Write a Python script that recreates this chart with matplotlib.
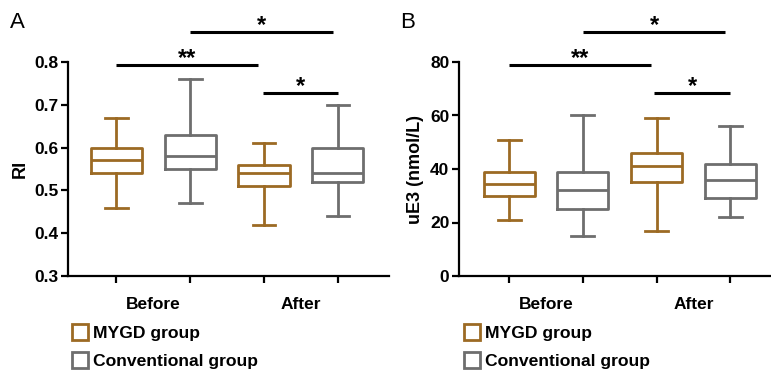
import matplotlib
matplotlib.use("Agg")
import matplotlib.pyplot as plt
from matplotlib.lines import Line2D

plt.rcParams['font.family'] = ['Liberation Sans', 'DejaVu Sans']

# ---- data ----
groups = ["MYGD group", "Conventional group"]
time_labels = ["Before", "After"]
colors = ["#9C6A24", "#6E6E6E"]

# order: MYGD Before, Conv Before, MYGD After, Conv After
ri_whislo = [0.46, 0.47, 0.42, 0.44]
ri_q1 = [0.54, 0.55, 0.51, 0.52]
ri_med = [0.57, 0.58, 0.54, 0.54]
ri_q3 = [0.60, 0.63, 0.56, 0.60]
ri_whishi = [0.67, 0.76, 0.61, 0.70]

ue3_whislo = [21, 15, 17, 22]
ue3_q1 = [30, 25, 35, 29]
ue3_med = [34.5, 32, 41, 36]
ue3_q3 = [39, 39, 46, 42]
ue3_whishi = [51, 60, 59, 56]

ri_ticks = [0.3, 0.4, 0.5, 0.6, 0.7, 0.8]
ue3_ticks = [0, 20, 40, 60, 80]

# significance: (x1, x2, y_bar, label)
ri_sig = [(2, 3.93, 0.870, "*"), (1, 2.92, 0.793, "**"), (2.99, 4, 0.728, "*")]
ue3_sig = [(2, 3.93, 91.2, "*"), (1, 2.92, 78.9, "**"), (2.97, 4, 68.4, "*")]

W, H = 771, 370
fig = plt.figure(figsize=(W / 100, H / 100), dpi=100)

def px_axes(left, right, top, bottom):
    return fig.add_axes([left / W, 1 - bottom / H, (right - left) / W, (bottom - top) / H])

axA = px_axes(68, 389, 62, 276)
axB = px_axes(459, 771, 62, 276)

def draw(ax, wlo, q1, med, q3, whi, ticks, ylim, xlim, sig, ylabel, fmt):
    stats = []
    for i in range(4):
        stats.append(dict(whislo=wlo[i], q1=q1[i], med=med[i], q3=q3[i], whishi=whi[i], fliers=[]))
    pos = [1, 2, 3, 4]
    for i in range(4):
        c = colors[i % 2]
        lw = 2.0
        ax.bxp([stats[i]], positions=[pos[i]], widths=0.69, capwidths=0.31,
               showfliers=False, patch_artist=False,
               boxprops=dict(color=c, linewidth=lw),
               whiskerprops=dict(color=c, linewidth=lw),
               capprops=dict(color=c, linewidth=lw),
               medianprops=dict(color=c, linewidth=lw))
    ax.set_xlim(*xlim)
    ax.set_ylim(*ylim)
    ax.set_yticks(ticks)
    ax.set_yticklabels([fmt(t) for t in ticks], fontsize=12.5, fontweight='bold')
    ax.set_xticks(pos)
    ax.set_xticklabels([])
    for s in ['top', 'right']:
        ax.spines[s].set_visible(False)
    for s in ['left', 'bottom']:
        ax.spines[s].set_linewidth(1.6)
    ax.tick_params(axis='both', width=1.6, length=5, pad=2)
    ax.set_ylabel(ylabel, fontsize=13, fontweight='bold', labelpad=4)
    yr = ylim[1] - ylim[0]
    for x1, x2, y, lab in sig:
        ax.plot([x1, x2], [y, y], color='black', lw=2.2, clip_on=False, solid_capstyle='butt')
        ax.annotate(lab, xy=((x1 + x2) / 2, y), xytext=(0, -3.6), textcoords='offset points',
                    ha='center', va='bottom', fontsize=17, fontweight='bold',
                    annotation_clip=False)
    for k, lab in enumerate(time_labels):
        ax.text(1.5 + 2 * k, ylim[0] - 0.135 * yr, lab, ha='center', va='center',
                fontsize=12.5, fontweight='bold')

draw(axA, ri_whislo, ri_q1, ri_med, ri_q3, ri_whishi, ri_ticks, (0.3, 0.8), (0.35, 4.69),
     ri_sig, "RI", lambda t: f"{t:.1f}")
draw(axB, ue3_whislo, ue3_q1, ue3_med, ue3_q3, ue3_whishi, ue3_ticks, (0, 80), (0.32, 4.55),
     ue3_sig, "uE3 (nmol/L)", lambda t: f"{t:d}")

for ax, x0 in [(axA, 72), (axB, 464)]:
    handles = [Line2D([], [], marker='s', linestyle='none', markersize=11,
                      markerfacecolor='white', markeredgecolor=c, markeredgewidth=2)
               for c in colors]
    fig.legend(handles, groups, loc='upper left',
               bbox_to_anchor=(x0 / W, 1 - 326 / H), frameon=False,
               prop=dict(size=12.6, weight='bold'), handlelength=0.9, handletextpad=0.3,
               labelspacing=0.7, borderpad=0, borderaxespad=0)

fig.text(10 / W, 1 - 22 / H, "A", fontsize=16, ha='left', va='center')
fig.text(400 / W, 1 - 22 / H, "B", fontsize=16, ha='left', va='center')

fig.savefig("out.png", dpi=100)
